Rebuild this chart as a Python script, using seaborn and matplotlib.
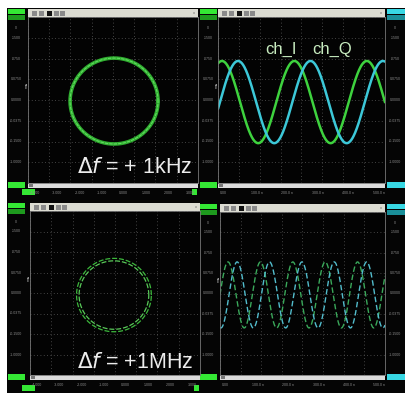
import numpy as np
import pandas as pd
import matplotlib.pyplot as plt
import seaborn as sns
from matplotlib.patches import Rectangle

W, H = 406, 397

# circles (x-y mode), in screen divisions: [1kHz, 1MHz]
circle_cx = [4.05, 3.95]
circle_cy = [-0.05, -0.10]
circle_rx = [2.07, 1.76]
circle_ry = [2.07, 1.79]

# time traces: [1kHz, 1MHz]
wave_amp = [1.98, 1.62]
wave_center = [-0.10, -0.07]
wave_period = [3.47, 1.57]
peak_i = [0.19, 0.39]
peak_q = [0.96, 0.83]

freq_labels = [r'$\Delta f$ = + 1kHz', r'$\Delta f$ = +1MHz']
channel_labels = ['ch_I', 'ch_Q']
y_ticklabels = ['0', '.1500', '.0750', '0.0750', '0.0000', '-0.0375', '-0.1500', '-1.0000']
xy_ticklabels = ['-4.000', '-3.000', '-2.000', '-1.000', '0.000', '1.000', '2.000', '3.000']
t_ticklabels = ['0.00', '100.0 n', '200.0 n', '300.0 n', '400.0 n', '500.0 n']

GREEN = '#34e834'
DKGREEN = '#1e9a1e'
CYAN = '#38d8e4'

sns.set_style('dark')
plt.rcParams['font.family'] = ['Liberation Sans', 'DejaVu Sans']
plt.rcParams['mathtext.fontset'] = 'dejavusans'

fig = plt.figure(figsize=(W / 100, H / 100), dpi=100)
fig.patch.set_facecolor('white')

bg = fig.add_axes([0, 0, 1, 1])
bg.set_xlim(0, W)
bg.set_ylim(H, 0)
bg.axis('off')


def box(x0, y0, x1, y1, c, **kw):
    bg.add_patch(Rectangle((x0, y0), x1 - x0, y1 - y0, color=c, lw=0, **kw))


box(7, 8, 405, 393, '#050505')


def panel(x0, y0, x1, y1, left_strip, right_cyan, xlabels):
    # toolbar above the plot area
    box(x0, y0 - 8, x1, y0, '#dcdcd2')
    for i, dx in enumerate([4, 11, 19, 26, 32]):
        box(x0 + dx, y0 - 6.5, x0 + dx + 5, y0 - 1.5, '#111111' if i == 2 else '#8a8a8a')
    bg.text(x1 - 4, y0 - 4, 'x', fontsize=3, color='#666666', ha='center', va='center')
    # scrollbar below
    box(x0, y1, x1, y1 + 4.5, '#dcdcdc')
    box(x0 + 1, y1 + 0.5, x0 + 5, y1 + 4, '#777777')
    # left strip boxes
    lx = left_strip
    box(lx, y0 - 8, lx + 17, y0 - 3, GREEN)
    box(lx, y0 - 2, lx + 17, y0 + 3, DKGREEN)
    box(lx, y1 - 1, lx + 17, y1 + 5, GREEN)
    if right_cyan:
        box(x1 + 2, y0 - 8, 405, y0 - 3, CYAN)
        box(x1 + 2, y0 - 2, 405, y0 + 3, '#1a8f99')
        box(x1 + 2, y1 - 1, 405, y1 + 5, CYAN)
    # y tick labels
    step = (y1 - y0) / 8
    ys = [y0 + 0.55 * step] + [y0 + step * k for k in range(1, 8)]
    for yy, lab in zip(ys, y_ticklabels):
        bg.text(lx + 8, yy, lab, fontsize=2.6, color='#8c8c8c', ha='center', va='center')
        if right_cyan:
            bg.text(x1 + 10, yy, lab, fontsize=2.6, color='#8c8c8c', ha='center', va='center')
    # x tick labels
    n = len(xlabels)
    for k, lab in enumerate(xlabels):
        xx = x0 + 2 + k * (x1 - x0 - 14) / (n - 1)
        bg.text(xx, y1 + 9.5, lab, fontsize=2.6, color='#8c8c8c', ha='left', va='center')
    bg.text(x0 - 2, y0 + 3.4 * step, 'f', fontsize=5, color='#dddddd', ha='center', va='center')

    ax = fig.add_axes([x0 / W, 1 - y1 / H, (x1 - x0) / W, (y1 - y0) / H])
    ax.set_facecolor('#030303')
    ax.set_xlim(0, 8)
    ax.set_ylim(-4, 4)
    ax.set_xticks(range(9))
    ax.set_yticks(range(-4, 5))
    ax.tick_params(length=0, labelbottom=False, labelleft=False)
    ax.grid(True, linestyle=(0, (1, 3)), color='#5a5a5a', lw=0.6)
    for s in ax.spines.values():
        s.set_color('#777777')
        s.set_linewidth(0.6)
    return ax


ax_tl = panel(28, 17, 198, 183, 8, False, xy_ticklabels)
ax_tr = panel(218, 17, 385, 183, 200, True, t_ticklabels)
ax_bl = panel(30, 211, 200, 375, 8, False, xy_ticklabels)
ax_br = panel(220, 212, 385, 375, 200, True, t_ticklabels)

box(22, 189, 35, 195, GREEN)
box(22, 385, 35, 391, GREEN)
box(192, 189, 197, 195, GREEN)
box(194, 385, 199, 391, GREEN)

# x-y circles
theta = np.linspace(0, 2 * np.pi, 400)
c0 = pd.DataFrame({'x': circle_cx[0] + circle_rx[0] * np.cos(theta),
                   'y': circle_cy[0] + circle_ry[0] * np.sin(theta)})
sns.lineplot(data=c0, x='x', y='y', sort=False, estimator=None, ax=ax_tl,
             color='#2fae2f', lw=2.6)
sns.lineplot(data=c0, x='x', y='y', sort=False, estimator=None, ax=ax_tl,
             color='#62d862', lw=0.8, linestyle=(0, (3, 1)))
for dr, col in [(0.0, '#3cb83c'), (-0.12, '#58c858')]:
    c1 = pd.DataFrame({'x': circle_cx[1] + (circle_rx[1] + dr) * np.cos(theta),
                       'y': circle_cy[1] + (circle_ry[1] + dr) * np.sin(theta)})
    sns.lineplot(data=c1, x='x', y='y', sort=False, estimator=None, ax=ax_bl,
                 color=col, lw=0.9, linestyle=(0, (4, 1.5)))

# time traces
t = np.linspace(0, 8, 800)
for ax, k, lw, ls, gcol, ccol in [(ax_tr, 0, 1.8, '-', '#3ed23e', '#3cc8d8'),
                                  (ax_br, 1, 1.0, (0, (4, 2)), '#3aa85a', '#52bccc')]:
    i_sig = wave_center[k] + wave_amp[k] * np.cos(2 * np.pi * (t - peak_i[k]) / wave_period[k])
    q_sig = wave_center[k] + wave_amp[k] * np.cos(2 * np.pi * (t - peak_q[k]) / wave_period[k])
    sns.lineplot(x=t, y=i_sig, ax=ax, color=gcol, lw=lw, linestyle=ls)
    sns.lineplot(x=t, y=q_sig, ax=ax, color=ccol, lw=lw, linestyle=ls)
for ax in [ax_tl, ax_tr, ax_bl, ax_br]:
    ax.set_xlim(0, 8)
    ax.set_ylim(-4, 4)
    ax.set_xlabel('')
    ax.set_ylabel('')

fig.text(77 / W, 1 - 168 / H, freq_labels[0], fontsize=15.5, color='#ececec',
         ha='left', va='center')
fig.text(77 / W, 1 - 362 / H, freq_labels[1], fontsize=15.5, color='#ececec',
         ha='left', va='center')
fig.text(265 / W, 1 - 49 / H, channel_labels[0], fontsize=12, color='#c8ecc0',
         ha='left', va='center')
fig.text(312 / W, 1 - 49 / H, channel_labels[1], fontsize=12, color='#c8ecc0',
         ha='left', va='center')

fig.savefig('out.png', dpi=100, facecolor='white')
